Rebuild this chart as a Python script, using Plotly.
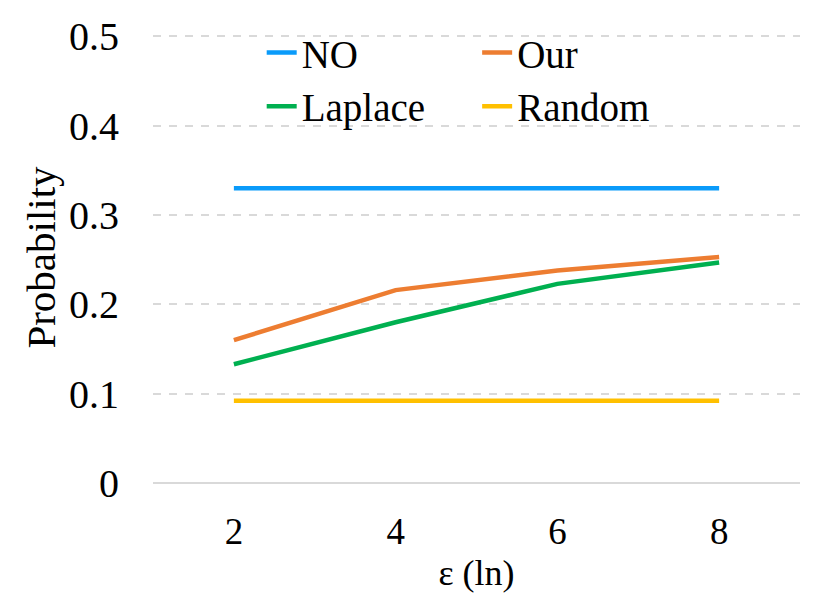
import plotly.graph_objects as go

# data
eps = [2, 4, 6, 8]
no_priv = [0.33, 0.33, 0.33, 0.33]
our = [0.160, 0.216, 0.238, 0.253]
laplace = [0.133, 0.180, 0.223, 0.247]
random_guess = [0.092, 0.092, 0.092, 0.092]

y_ticks = [0, 0.1, 0.2, 0.3, 0.4, 0.5]
y_tick_text = ['0', '0.1', '0.2', '0.3', '0.4', '0.5']

FONT = 'Liberation Serif'

fig = go.Figure()

series = [
    ('NO', no_priv, '#0A9BFA', 'legend'),
    ('Laplace', laplace, '#00B050', 'legend'),
    ('Our', our, '#ED7D31', 'legend2'),
    ('Random', random_guess, '#FFC000', 'legend2'),
]
for name, vals, color, leg in series:
    fig.add_trace(go.Scatter(
        x=eps, y=vals, mode='lines', name=name,
        line=dict(color=color, width=4.5),
        legend=leg
    ))

legend_style = dict(
    orientation='v',
    bgcolor='rgba(0,0,0,0)',
    font=dict(family=FONT, size=39, color='black'),
    xanchor='left', yanchor='top',
    tracegroupgap=0,
    itemwidth=30
)

# page body adds ~8px offset, margins compensate for it
fig.update_layout(
    width=830, height=598,
    margin=dict(l=145, r=38, t=24, b=123, autoexpand=False),
    plot_bgcolor='white',
    paper_bgcolor='white',
    font=dict(family=FONT, color='black'),
    legend=dict(x=0.168, y=1.025, **legend_style),
    legend2=dict(x=0.501, y=1.025, **legend_style),
    xaxis=dict(
        range=[1, 9],
        tickvals=eps,
        ticktext=[str(v) for v in eps],
        showgrid=False, zeroline=False, showline=False,
        ticks='',
        ticklabelstandoff=23,
        tickfont=dict(family=FONT, size=37),
        title=dict(text='ε (ln)', font=dict(family=FONT, size=36), standoff=8)
    ),
    yaxis=dict(
        range=[0, 0.505],
        tickvals=y_ticks,
        ticktext=y_tick_text,
        showgrid=True, gridcolor='#D9D9D9', gridwidth=2, griddash='8px,8px',
        zeroline=True, zerolinecolor='#D9D9D9', zerolinewidth=2,
        showline=False, ticks='',
        ticklabelstandoff=33,
        tickfont=dict(family=FONT, size=40),
        title=dict(text='Probability', font=dict(family=FONT, size=41), standoff=0)
    ),
)

fig.write_html('out.html')
